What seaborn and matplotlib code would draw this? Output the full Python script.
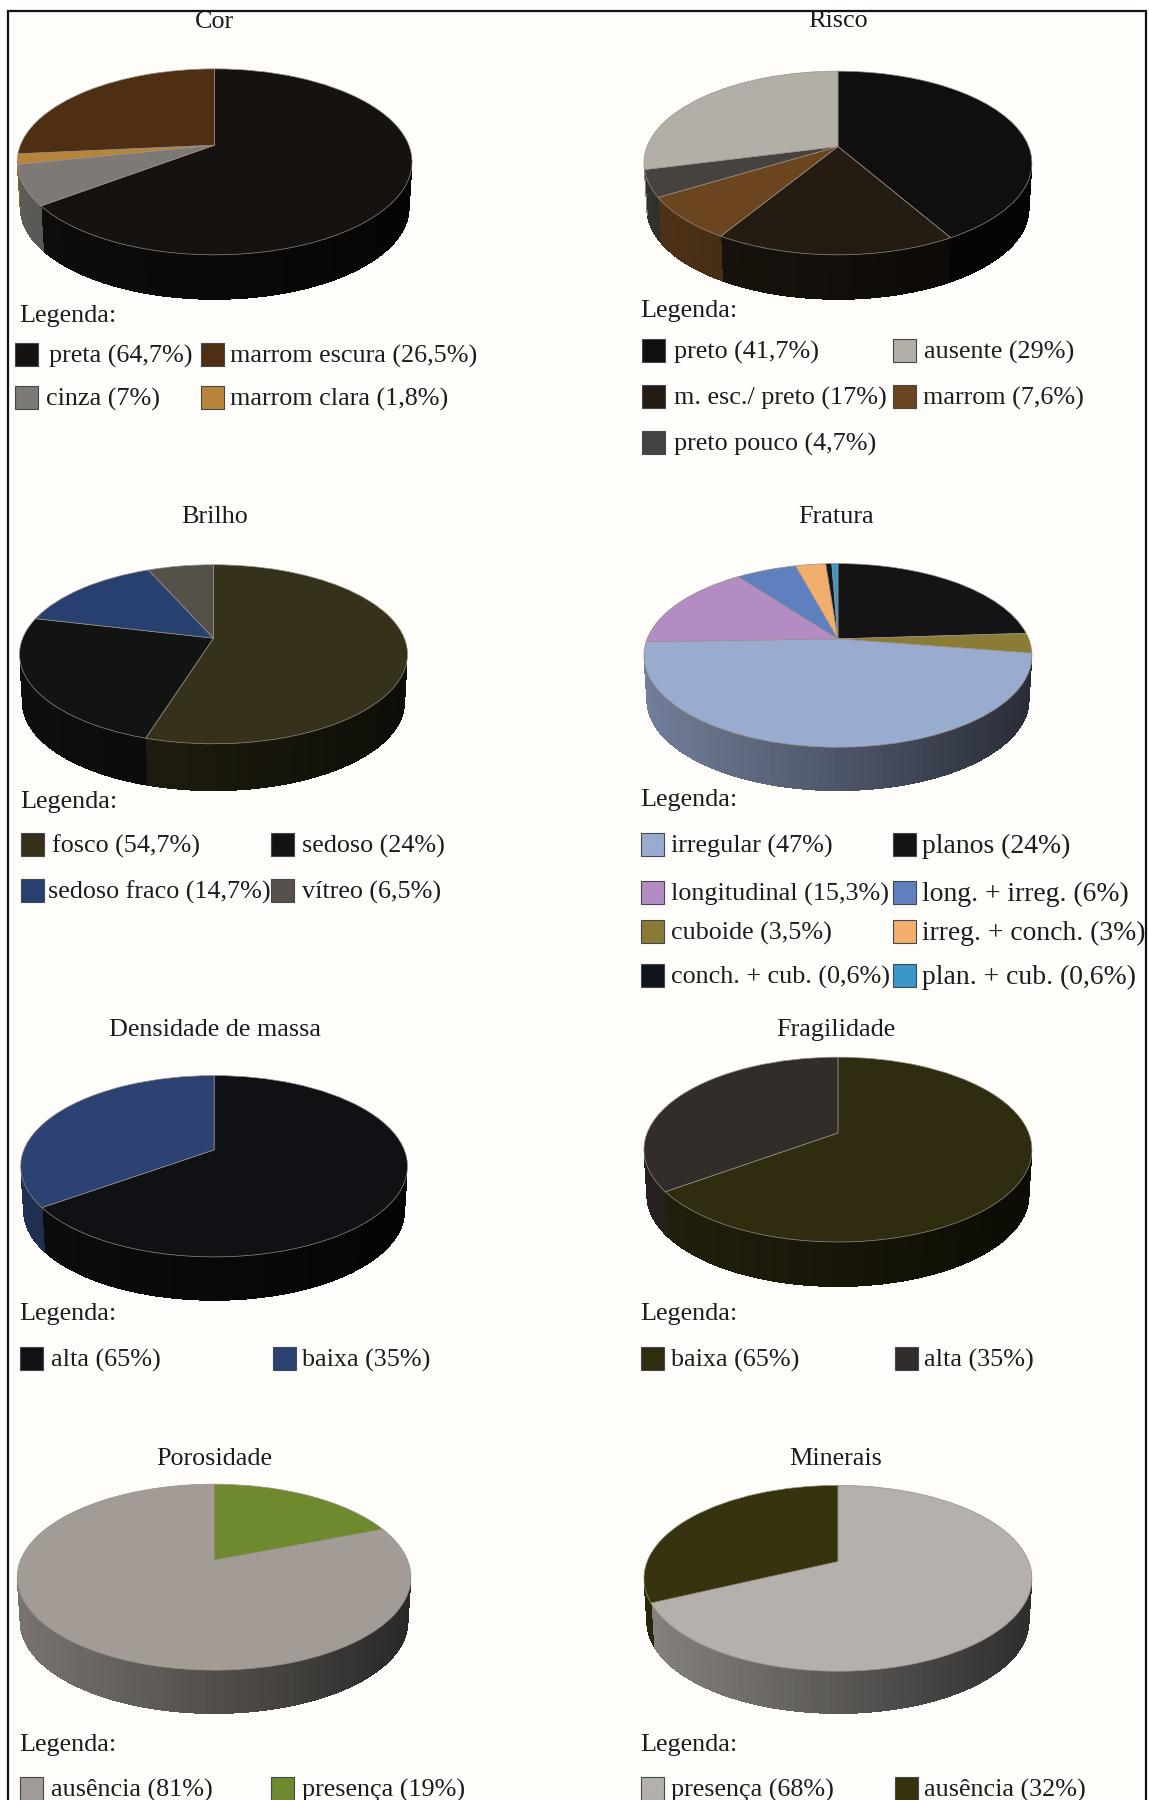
import numpy as np
import matplotlib
matplotlib.use("Agg")
import matplotlib.pyplot as plt
import matplotlib.transforms as mtransforms
from matplotlib.patches import Rectangle
import seaborn as sns

# Mineral property shares, listed clockwise from twelve o'clock as in each pie.
cor_labels = ["preta", "cinza", "marrom clara", "marrom escura"]
cor_values = [64.7, 7, 1.8, 26.5]
cor_colors = ["#15120f", "#7d7a76", "#b8843a", "#4f2f14"]

risco_labels = ["preto", "m. esc./ preto", "marrom", "preto pouco", "ausente"]
risco_values = [41.7, 17, 7.6, 4.7, 29]
risco_colors = ["#0f0f0f", "#241c12", "#6b4520", "#45423f", "#b3aea8"]

brilho_labels = ["fosco", "sedoso", "sedoso fraco", "vítreo"]
brilho_values = [54.7, 24, 14.7, 6.5]
brilho_colors = ["#35311a", "#121414", "#27406f", "#55504a"]

fratura_labels = ["planos", "cuboide", "irregular", "longitudinal", "long. + irreg.",
                  "irreg. + conch.", "conch. + cub.", "plan. + cub."]
fratura_values = [24, 3.5, 47, 15.3, 6, 3, 0.6, 0.6]
fratura_colors = ["#141416", "#8a7b35", "#9aabd0", "#b48cc4", "#5f7fbf",
                  "#f2ae6c", "#10171c", "#3a96c8"]

densidade_labels = ["alta", "baixa"]
densidade_values = [65, 35]
densidade_colors = ["#101114", "#2b4272"]

fragilidade_labels = ["baixa", "alta"]
fragilidade_values = [65, 35]
fragilidade_colors = ["#2f2c10", "#322c2a"]

porosidade_labels = ["presença", "ausência"]
porosidade_values = [19, 81]
porosidade_colors = ["#6f8a2e", "#a39c96"]

minerais_labels = ["presença", "ausência"]
minerais_values = [68, 32]
minerais_colors = ["#b5b0ab", "#37330f"]

# Layout, in pixels of a 1001-wide sheet (scaled on use).
SCALE = 1149 / 1001
TILT = 0.18       # how far the pie apex sits above the centre of the rim ellipse
BACK_SCALE = 0.985

PANELS = [
    dict(title="Cor", tx=187, ty=19, labels=cor_labels, values=cor_values, colors=cor_colors,
         box=(15, 359, 60, 222, 262), legend_xy=(17, 275),
         rows=[(308, [(0, 13, 43), (3, 175, 200)]), (346, [(1, 13, 40), (2, 175, 200)])]),
    dict(title="Risco", tx=730, ty=18, labels=risco_labels, values=risco_values, colors=risco_colors,
         box=(561, 899, 62, 222, 262), legend_xy=(558, 271),
         rows=[(305, [(0, 559, 587), (4, 778, 805)]), (345, [(1, 559, 587), (2, 778, 804)]),
               (385, [(3, 559, 587)])]),
    dict(title="Brilho", tx=187, ty=450, labels=brilho_labels, values=brilho_values, colors=brilho_colors,
         box=(17, 355, 492, 648, 690), legend_xy=(18, 699),
         rows=[(735, [(0, 18, 45), (1, 236, 263)]), (775, [(2, 18, 42), (3, 236, 263)])]),
    dict(title="Fratura", tx=728, ty=450, labels=fratura_labels, values=fratura_values, colors=fratura_colors,
         box=(561, 899, 491, 651, 690), legend_xy=(558, 697), right_size=19.9,
         rows=[(735, [(2, 558, 585), (0, 778, 803)]), (777, [(3, 558, 585), (4, 778, 803)]),
               (811, [(1, 558, 585), (5, 778, 803)]), (849, [(6, 558, 585), (7, 778, 803)])]),
    dict(title="Densidade de massa", tx=187, ty=897, labels=densidade_labels, values=densidade_values,
         colors=densidade_colors, box=(18, 355, 937, 1095, 1134), legend_xy=(17, 1145),
         rows=[(1183, [(0, 17, 44), (1, 238, 263)])]),
    dict(title="Fragilidade", tx=728, ty=897, labels=fragilidade_labels, values=fragilidade_values,
         colors=fragilidade_colors, box=(561, 899, 921, 1082, 1122), legend_xy=(558, 1145),
         rows=[(1183, [(0, 558, 585), (1, 780, 805)])]),
    dict(title="Porosidade", tx=187, ty=1271, labels=porosidade_labels, values=porosidade_values,
         colors=porosidade_colors, box=(15, 358, 1293, 1455, 1494), legend_xy=(17, 1520),
         rows=[(1558, [(1, 17, 44), (0, 236, 263)])]),
    dict(title="Minerais", tx=728, ty=1271, labels=minerais_labels, values=minerais_values,
         colors=minerais_colors, box=(561, 899, 1294, 1456, 1494), legend_xy=(558, 1520),
         rows=[(1558, [(0, 558, 585), (1, 780, 805)])]),
]

TEXT_COLOR = "#1c1c1c"
FONT_SIZE = 18.8
RIM_COLOR = "#9a8f85"
ROW_TEXT_DROP = 2.5   # legend text sits slightly below the centre of its swatch


def tilt_points(x, y, tilt=TILT):
    """Projective map that keeps the unit circle but moves its centre up by `tilt`."""
    ch = 1 / np.sqrt(1 - tilt ** 2)
    sh = tilt * ch
    w = y * sh + ch
    return x / w, (y * ch + sh) / w


class TiltTransform(mtransforms.Transform):
    input_dims = output_dims = 2
    is_separable = False
    has_inverse = False

    def transform_non_affine(self, values):
        values = np.asarray(values, dtype=float)
        x, y = tilt_points(values[:, 0], values[:, 1])
        return np.column_stack([x, y])


def shade(color, x):
    """Darken a side-wall colour from the left of the pie to the right."""
    rgb = np.array(matplotlib.colors.to_rgb(color))
    return tuple(rgb * np.interp(x, [-1, 0, 1], [0.74, 0.5, 0.26]))


def draw_side(ax, values, colors, depth):
    """Wall of the disc: thin strips under the visible front of the rim."""
    fractions = np.asarray(values, dtype=float) / np.sum(values)
    edges = np.concatenate([[0], np.cumsum(fractions)]) * 2 * np.pi
    start = np.arccos(-TILT)
    stop = 2 * np.pi - start
    for a, b, color in zip(edges[:-1], edges[1:], colors):
        a, b = max(a, start), min(b, stop)
        if b <= a:
            continue
        steps = np.linspace(a, b, max(2, int((b - a) / np.radians(1.5)) + 2))
        for t0, t1 in zip(steps[:-1], steps[1:]):
            # Each strip runs on under its neighbour so no seams show through.
            thetas = np.array([t0, min(t1 + np.radians(1.0), b)])
            x, y = tilt_points(np.sin(thetas), np.cos(thetas))
            px = np.r_[x, x[::-1] * BACK_SCALE]
            py = np.r_[y, y[::-1] * BACK_SCALE - depth]
            ax.fill(px, py, facecolor=shade(color, x.mean()), edgecolor="none",
                    linewidth=0, antialiased=False, zorder=1)


def legend_label(label, value):
    return f"{label} (" + f"{value:g}".replace(".", ",") + "%)"


sns.set_theme(style="white")
plt.rcParams["font.family"] = ["Liberation Serif", "DejaVu Sans"]

W, H = 1149, 1800
fig = plt.figure(figsize=(W / 100, H / 100), dpi=100, facecolor="white")

canvas = fig.add_axes([0, 0, 1, 1], zorder=0)
canvas.set_xlim(0, W)
canvas.set_ylim(H, 0)
canvas.axis("off")
canvas.add_patch(Rectangle((8, 11), 1138, 1830, facecolor="#fffdfa", edgecolor="#111111", linewidth=1.6))

for panel in PANELS:
    left, right, top, bottom, base = [v * SCALE for v in panel["box"]]
    palette = sns.color_palette(panel["colors"])
    ax = fig.add_axes([left / W, 1 - base / H, (right - left) / W, (base - top) / H], zorder=1)
    depth = 2 * (base - bottom) / (bottom - top)

    draw_side(ax, panel["values"], palette, depth)
    wedges, _ = ax.pie(panel["values"], colors=palette, startangle=90, counterclock=False,
                       normalize=True, radius=1,
                       wedgeprops=dict(edgecolor=RIM_COLOR, linewidth=0.5, zorder=2))
    tilt = TiltTransform() + ax.transData
    for wedge in wedges:
        wedge.set_transform(tilt)
    ax.set_aspect("auto")
    ax.set_xlim(-1, 1)
    ax.set_ylim(-1 - depth, 1)
    ax.axis("off")

    canvas.text(panel["tx"] * SCALE, panel["ty"] * SCALE, panel["title"], ha="center", va="center",
                fontsize=FONT_SIZE, color=TEXT_COLOR)
    lx, ly = panel["legend_xy"]
    canvas.text(lx * SCALE, ly * SCALE, "Legenda:", ha="left", va="center",
                fontsize=FONT_SIZE, color=TEXT_COLOR)
    for row_y, entries in panel["rows"]:
        for column, (index, swatch_x, text_x) in enumerate(entries):
            size = panel.get("right_size", FONT_SIZE) if column == 1 else FONT_SIZE
            canvas.add_patch(Rectangle((swatch_x * SCALE, row_y * SCALE - 11), 23, 23,
                                       facecolor=palette[index], edgecolor="#3f4a50", linewidth=0.8))
            canvas.text(text_x * SCALE, row_y * SCALE + ROW_TEXT_DROP,
                        legend_label(panel["labels"][index], panel["values"][index]),
                        ha="left", va="center", fontsize=size, color=TEXT_COLOR)

fig.savefig("out.png", dpi=100, facecolor=fig.get_facecolor())
